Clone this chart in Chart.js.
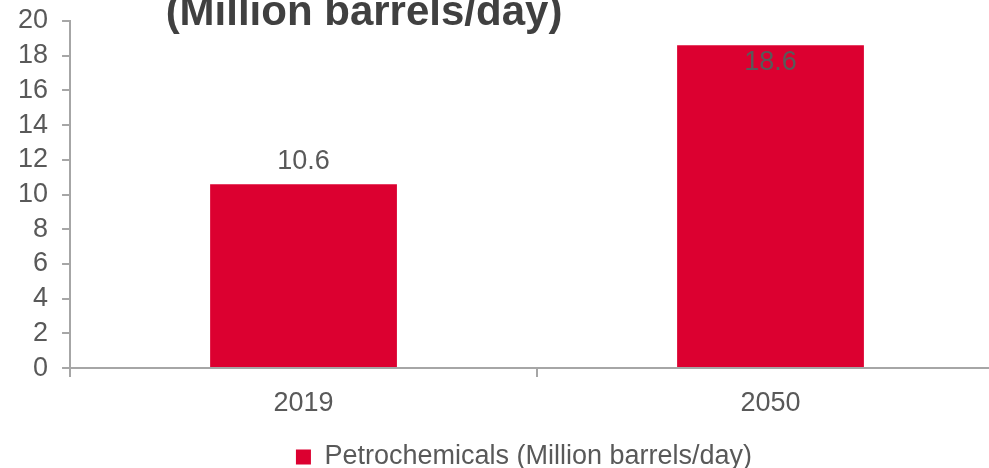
<!DOCTYPE html>
<html>
<head>
<meta charset="utf-8">
<script src="https://cdn.jsdelivr.net/npm/chart.js@4.4.1/dist/chart.umd.min.js"></script>
<style>
  html, body { margin: 0; padding: 0; background: #fff; overflow: hidden; }
  #wrap { width: 1043px; height: 468px; }
</style>
</head>
<body>
<div id="wrap"><canvas id="chart" width="1043" height="468"></canvas></div>
<script>
// Chart data
const categories = ['2019', '2050'];
const seriesName = 'Petrochemicals (Million barrels/day)';
const seriesValues = [10.6, 18.6];
const yTickValues = [0, 2, 4, 6, 8, 10, 12, 14, 16, 18, 20];
const titleText = '(Million barrels/day)';

const FONT = 'Liberation Sans, Arial, sans-serif';
const TEXT = '#595959';
const AXIS = '#a6a6a6';
const RED = '#dc0030';

// title line (the line above it is cut off in the original)
const titlePlugin = {
  id: 'titleText',
  afterDraw(chart) {
    const ctx = chart.ctx;
    ctx.save();
    ctx.font = 'bold 42px ' + FONT;
    ctx.fillStyle = '#404040';
    ctx.textAlign = 'center';
    ctx.textBaseline = 'alphabetic';
    ctx.fillText(titleText, 364, 25);
    ctx.restore();
  }
};

// value labels above bars, pushed inside when there's no room
const valueLabels = {
  id: 'valueLabels',
  afterDatasetsDraw(chart) {
    const ctx = chart.ctx;
    const meta = chart.getDatasetMeta(0);
    ctx.save();
    ctx.font = '27px ' + FONT;
    ctx.fillStyle = TEXT;
    ctx.textAlign = 'center';
    ctx.textBaseline = 'middle';
    meta.data.forEach((bar, i) => {
      let y = bar.y - 23;
      if (y - 14 < chart.chartArea.top) y = bar.y + 17;
      ctx.fillText(seriesValues[i].toFixed(1), bar.x, y);
    });
    ctx.restore();
  }
};

// legend is centred on the full (wider) original chart and sits a bit lower
const legendShift = {
  id: 'legendShift',
  afterLayout(chart) {
    const lg = chart.legend;
    if (!lg) return;
    lg.left += 20;
    lg.right += 20;
    lg.top += 12.5;
    lg.bottom += 12.5;
  }
};

new Chart(document.getElementById('chart'), {
  type: 'bar',
  data: {
    labels: categories,
    datasets: [{
      label: seriesName,
      data: seriesValues,
      backgroundColor: RED,
      borderWidth: 0,
      categoryPercentage: 1,
      barPercentage: 0.4,
    }],
  },
  options: {
    responsive: false,
    animation: false,
    layout: { padding: { left: 4, right: 39, top: 0, bottom: 0 } },
    plugins: {
      title: { display: false },
      tooltip: { enabled: false },
      legend: {
        position: 'bottom',
        labels: {
          boxWidth: 15,
          boxHeight: 15,
          padding: 1.5,
          color: TEXT,
          font: { size: 27, family: FONT },
        },
      },
    },
    scales: {
      x: {
        grid: {
          offset: true,
          drawOnChartArea: false,
          tickLength: 9,
          color: AXIS,
          lineWidth: 2,
        },
        border: { color: AXIS, width: 2 },
        ticks: {
          padding: 10,
          color: TEXT,
          font: { size: 27, family: FONT },
        },
      },
      y: {
        min: 0,
        max: 20,
        afterBuildTicks: (scale) => {
          scale.ticks = yTickValues.map(v => ({ value: v }));
        },
        afterFit: (scale) => {
          // top of the plot sits right under the cut-off title
          scale.paddingTop = 21;
        },
        grid: {
          drawOnChartArea: false,
          tickLength: 8,
          color: AXIS,
          lineWidth: 2,
        },
        border: { color: AXIS, width: 2 },
        ticks: {
          autoSkip: false,
          padding: 14,
          color: TEXT,
          font: { size: 27, family: FONT },
        },
      },
    },
  },
  plugins: [titlePlugin, valueLabels, legendShift],
});
</script>
</body>
</html>
